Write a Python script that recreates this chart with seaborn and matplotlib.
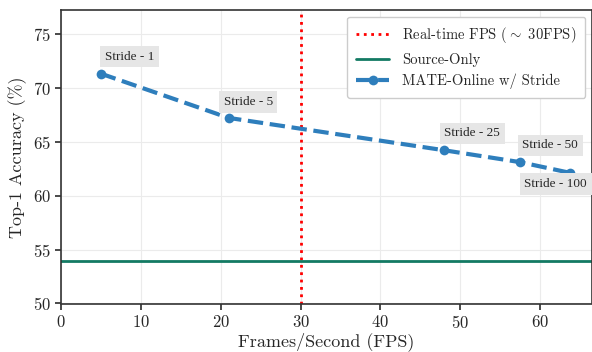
import matplotlib
matplotlib.use("Agg")
import matplotlib.pyplot as plt
import seaborn as sns
import pandas as pd

fps = [5, 21, 48, 57.5, 63.8]
acc = [71.3, 67.2, 64.2, 63.1, 62.1]
stride_labels = ["Stride - 1", "Stride - 5", "Stride - 25", "Stride - 50", "Stride - 100"]
source_only = 53.9
realtime_fps = 30

sns.set_theme(style="whitegrid")
plt.rcParams['font.family'] = ['cmr10', 'DejaVu Serif']
plt.rcParams['mathtext.fontset'] = 'cm'
plt.rcParams['axes.formatter.use_mathtext'] = True

fig = plt.figure(figsize=(5.92, 3.52), dpi=100)
ax = fig.add_axes([61/592, 1 - 303.5/352, (592 - 61)/592, (303.5 - 10)/352])

ax.axvline(realtime_fps, color="red", linestyle=":", linewidth=2, label=r"Real-time FPS ($\sim$ 30FPS)")
ax.axhline(source_only, color="#137a63", linewidth=2, label="Source-Only")
df = pd.DataFrame({"fps": fps, "acc": acc})
sns.lineplot(data=df, x="fps", y="acc", ax=ax, color="#2e7ebc", linestyle="--",
             linewidth=3, marker="o", markersize=7, markeredgewidth=0,
             label="MATE-Online w/ Stride")

offsets = [(4, 11), (-5, 10), (0, 11), (2, 11), (-46, -17)]
for x, y, t, (dx, dy) in zip(fps, acc, stride_labels, offsets):
    ax.annotate(t, (x, y), xytext=(dx, dy), textcoords="offset pixels",
                fontsize=9.5, fontfamily="Liberation Serif", ha="left", va="bottom",
                bbox=dict(boxstyle="square,pad=0.35", fc="#e6e6e6", ec="none"))

ax.set_xlim(0, 66.5)
ax.set_ylim(50, 77.2)
ax.set_xticks([0, 10, 20, 30, 40, 50, 60])
ax.set_yticks([50, 55, 60, 65, 70, 75])
ax.set_xlabel("Frames/Second (FPS)", fontsize=13, labelpad=1)
ax.set_ylabel("Top-1 Accuracy (%)", fontsize=13)
ax.tick_params(axis="both", labelsize=12, length=4, color="#333333", bottom=True, left=True)
for s in ax.spines.values():
    s.set_color("#333333")
    s.set_linewidth(1.2)
ax.grid(True, color="#ebebeb", linewidth=0.8)
ax.legend(loc="upper right", fontsize=10.5, frameon=True, edgecolor="#cccccc", facecolor="white",
          framealpha=1, handlelength=2.3, handletextpad=0.9, borderpad=0.6,
          borderaxespad=0.45)

fig.savefig("out.png", dpi=100)
